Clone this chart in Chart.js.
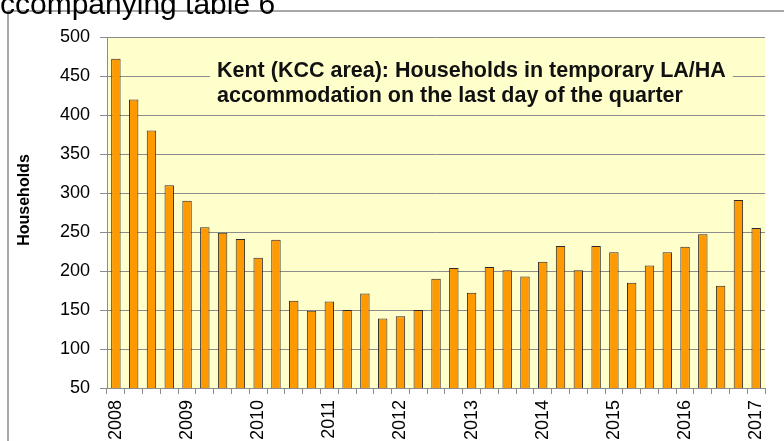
<!DOCTYPE html>
<html>
<head>
<meta charset="utf-8">
<script src="https://cdn.jsdelivr.net/npm/chart.js@4"></script>
<style>
  html, body { margin: 0; padding: 0; background: #fff; }
  #wrap { position: relative; width: 784px; height: 441px; overflow: hidden; }
</style>
</head>
<body>
<div id="wrap"><canvas id="myChart" width="784" height="441"></canvas></div>
<script>
// quarters, 2008 Q1 .. 2017 Q1
const quarters = [
  "2008 Q1", "2008 Q2", "2008 Q3", "2008 Q4",
  "2009 Q1", "2009 Q2", "2009 Q3", "2009 Q4",
  "2010 Q1", "2010 Q2", "2010 Q3", "2010 Q4",
  "2011 Q1", "2011 Q2", "2011 Q3", "2011 Q4",
  "2012 Q1", "2012 Q2", "2012 Q3", "2012 Q4",
  "2013 Q1", "2013 Q2", "2013 Q3", "2013 Q4",
  "2014 Q1", "2014 Q2", "2014 Q3", "2014 Q4",
  "2015 Q1", "2015 Q2", "2015 Q3", "2015 Q4",
  "2016 Q1", "2016 Q2", "2016 Q3", "2016 Q4",
  "2017 Q1"
];
const households = [
  472, 420, 380, 310,
  290, 256, 249, 241,
  217, 240, 162, 149,
  161, 150, 171, 139,
  142, 150, 190, 204,
  172, 205, 201, 193,
  212, 232, 201, 232,
  224, 185, 207, 224,
  231, 247, 181, 291,
  255
];
const yTicks = [50, 100, 150, 200, 250, 300, 350, 400, 450, 500];
const titleLines = [
  "Kent (KCC area): Households in temporary LA/HA",
  "accommodation on the last day of the quarter"
];
const yTitle = "Households";

const FONT = "'Liberation Sans', Arial, sans-serif";

const decor = {
  id: "decor",
  beforeDraw(chart) {
    const ctx = chart.ctx;
    const a = chart.chartArea;
    ctx.save();
    // outer frame
    ctx.strokeStyle = "#8c8c8c";
    ctx.lineWidth = 1.5;
    ctx.beginPath();
    ctx.moveTo(8, 460);
    ctx.lineTo(8, 11);
    ctx.lineTo(800, 11);
    ctx.stroke();
    // plot background
    ctx.fillStyle = "#ffffcc";
    ctx.fillRect(a.left, a.top, a.right - a.left, a.bottom - a.top);
    // caption cut off at the top of the page
    ctx.fillStyle = "#000";
    ctx.font = "30px " + FONT;
    ctx.textBaseline = "alphabetic";
    const aw = ctx.measureText("a").width;
    ctx.fillText("accompanying table 6", -aw, 14);
    // y axis title
    ctx.translate(25, 200);
    ctx.rotate(-Math.PI / 2);
    ctx.font = "bold 16px " + FONT;
    ctx.textAlign = "center";
    ctx.textBaseline = "middle";
    ctx.fillText(yTitle, 0, 0);
    ctx.restore();
  },
  afterDatasetsDraw(chart) {
    const ctx = chart.ctx;
    ctx.save();
    ctx.font = "bold 21.5px " + FONT;
    const w = Math.max(...titleLines.map(t => ctx.measureText(t).width));
    const x = 217;
    ctx.fillStyle = "#ffffcc";
    ctx.fillRect(x - 7, 56, w + 14, 52);
    ctx.fillStyle = "#111";
    ctx.textBaseline = "alphabetic";
    ctx.fillText(titleLines[0], x, 77);
    ctx.fillText(titleLines[1], x, 102);
    ctx.restore();
  }
};

new Chart(document.getElementById("myChart"), {
  type: "bar",
  data: {
    labels: quarters,
    datasets: [{
      label: "Households",
      data: households,
      backgroundColor: "#ff9900",
      borderColor: "#2a2a2a",
      borderWidth: 1,
      borderSkipped: "bottom",
      categoryPercentage: 1,
      barPercentage: 0.53
    }]
  },
  options: {
    responsive: false,
    animation: false,
    layout: { padding: { left: 8, top: 37, right: 16, bottom: 0 } },
    plugins: { legend: { display: false }, tooltip: { enabled: false } },
    scales: {
      x: {
        offset: true,
        grid: { drawOnChartArea: false, offset: true, tickLength: 6, color: "#8c8c8c" },
        border: { color: "#8c8c8c", width: 1 },
        ticks: {
          autoSkip: false,
          maxRotation: 90,
          minRotation: 90,
          padding: 6,
          color: "#000",
          font: { family: FONT, size: 18 },
          callback: (v, i) => quarters[i].endsWith("Q1") ? quarters[i].slice(0, 4) : ""
        },
        afterFit: s => { s.height = 53; }
      },
      y: {
        min: 50,
        max: 500,
        afterBuildTicks: s => { s.ticks = yTicks.map(v => ({ value: v })); },
        grid: { color: "#8c8c8c", lineWidth: 1, tickLength: 7 },
        border: { color: "#8c8c8c", width: 1 },
        ticks: {
          padding: 10,
          color: "#000",
          font: { family: FONT, size: 18 }
        },
        afterFit: s => { s.width = 99; }
      }
    }
  },
  plugins: [decor]
});
</script>
</body>
</html>
